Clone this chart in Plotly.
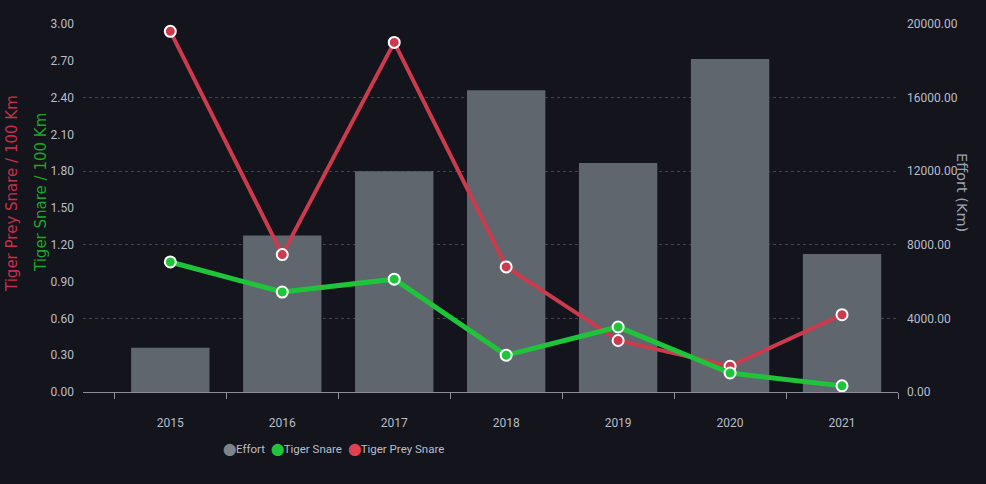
import plotly.graph_objects as go

years = ["2015", "2016", "2017", "2018", "2019", "2020", "2021"]
effort = [2400, 8500, 12000, 16400, 12450, 18100, 7500]
tiger_snare = [1.06, 0.815, 0.92, 0.30, 0.53, 0.155, 0.05]
tiger_prey_snare = [2.94, 1.12, 2.85, 1.02, 0.42, 0.21, 0.63]
left_ticks = [0.0, 0.3, 0.6, 0.9, 1.2, 1.5, 1.8, 2.1, 2.4, 2.7, 3.0]
right_ticks = [0, 4000, 8000, 12000, 16000, 20000]
legend_items = [("Effort", "#7d838b"), ("Tiger Snare", "#1fc43a"), ("Tiger Prey Snare", "#e0404f")]

BG = "#13141c"
BAR = "#60666e"
GREEN = "#1fc43a"
RED = "#cc3a4e"
TICK = "#b9bdc8"
FONT = "Liberation Sans Narrow, Arial Narrow, Roboto, sans-serif"
TFONT = "DejaVu Sans, Verdana, sans-serif"

fig = go.Figure()
fig.add_trace(go.Bar(x=years, y=effort, name="Effort", marker_color=BAR,
                     marker_line_width=0, width=0.7, yaxis="y", showlegend=False))
fig.add_trace(go.Scatter(x=years, y=tiger_prey_snare, name="Tiger Prey Snare", yaxis="y2",
                         mode="lines+markers", line=dict(color=RED, width=4),
                         marker=dict(size=11, color=RED, line=dict(color="white", width=2)),
                         showlegend=False, cliponaxis=False))
fig.add_trace(go.Scatter(x=years, y=tiger_snare, name="Tiger Snare", yaxis="y2",
                         mode="lines+markers", line=dict(color=GREEN, width=5),
                         marker=dict(size=11, color=GREEN, line=dict(color="white", width=2)),
                         showlegend=False, cliponaxis=False))

fig.update_layout(
    width=986, height=484,
    paper_bgcolor=BG, plot_bgcolor=BG,
    margin=dict(l=83, r=88, t=24, b=92),
    font=dict(family=FONT, size=12, color=TICK),
    showlegend=False,
    xaxis=dict(type="category", range=[-0.78, 6.5], showgrid=False,
               showline=True, linecolor="#8a8e99", linewidth=1,
               ticks="outside", tickson="boundaries", ticklen=6, tickcolor="#8a8e99",
               ticklabelstandoff=20, tickfont=dict(size=12, color=TICK, family=FONT),
               zeroline=False),
    yaxis=dict(range=[0, 20000], side="right",
               tickvals=right_ticks, ticktext=[f"{v:.2f}" for v in right_ticks],
               showgrid=True, gridcolor="#41444f", griddash="dot", gridwidth=1,
               zeroline=False, showline=False,
               ticklabelstandoff=8, tickfont=dict(size=12, color=TICK, family=FONT)),
    yaxis2=dict(range=[0, 3.0], overlaying="y", side="left", tickvals=left_ticks,
                ticktext=[f"{v:.2f}" for v in left_ticks],
                showgrid=False, zeroline=False, showline=False,
                ticklabelstandoff=8, tickfont=dict(size=12, color=TICK, family=FONT)),
)

# legend drawn as a single line of text with coloured circle glyphs
legend_text = "  ".join(f"<span style='color:{c}'>⬤</span>{n}" for n, c in legend_items)
fig.add_annotation(text=legend_text, xref="paper", yref="paper",
                   x=(333 - 83) / 815, y=-(449 - 392) / 368, showarrow=False,
                   xanchor="center", yanchor="middle",
                   font=dict(family=FONT, size=11.5, color=TICK))

fig.add_annotation(text="Tiger Prey Snare / 100 Km", xref="paper", yref="paper",
                   x=(12 - 83) / 815, y=(392 - 194) / 368, textangle=-90, showarrow=False,
                   font=dict(family=TFONT, size=15, color="#c4324a"),
                   xanchor="center", yanchor="middle")
fig.add_annotation(text="Tiger Snare / 100 Km", xref="paper", yref="paper",
                   x=(41 - 83) / 815, y=(392 - 193) / 368, textangle=-90, showarrow=False,
                   font=dict(family=TFONT, size=15, color="#1ea52a"),
                   xanchor="center", yanchor="middle")
fig.add_annotation(text="Effort (Km)", xref="paper", yref="paper",
                   x=(962 - 83) / 815, y=(392 - 192) / 368, textangle=90, showarrow=False,
                   font=dict(family=TFONT, size=14.5, color="#9ba1ae"),
                   xanchor="center", yanchor="middle")

fig.write_html("out.html", config={"displayModeBar": False},
               post_script="document.body.style.margin='0px';")
